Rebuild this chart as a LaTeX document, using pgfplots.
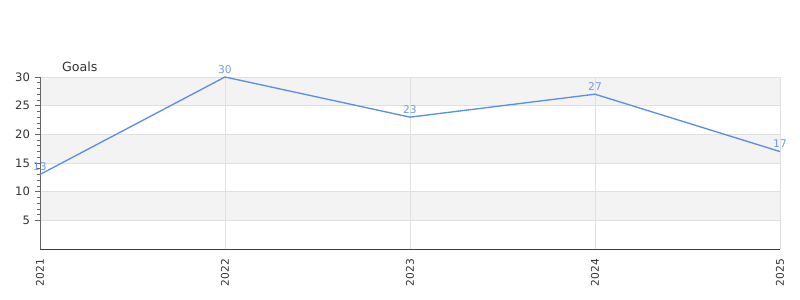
\documentclass[border=0pt]{standalone}
\usepackage{fontspec}
\setmainfont{DejaVu Sans}
\usepackage{pgfplots}
\pgfplotsset{compat=1.18}
\definecolor{linec}{HTML}{5B8EE6}
\definecolor{labc}{HTML}{6F9BE6}
\definecolor{band}{HTML}{F3F3F3}
\definecolor{gridc}{HTML}{E0E0E0}
\definecolor{txt}{HTML}{333333}
\begin{document}
\begin{tikzpicture}
\useasboundingbox (-30pt,-38.25pt) rectangle (570pt,186.75pt);
\begin{axis}[
  at={(0,0)}, anchor=south west,
  scale only axis, width=555pt, height=129pt,
  xmin=0, xmax=4, ymin=0, ymax=30,
  axis line style={draw=none},
  xtick={0,1,2,3,4},
  xticklabels={2021,2022,2023,2024,2025},
  x tick label style={rotate=90, anchor=east, font=\fontsize{8}{9}\selectfont, text=txt},
  xtick style={draw=none},
  ytick={5,10,15,20,25,30},
  ytick pos=left,
  minor y tick num=4,
  y tick label style={font=\fontsize{8.7}{10}\selectfont, text=txt},
  tick align=outside,
  major tick length=4pt,
  minor tick length=2.5pt,
  ytick style={draw=gray!80!black, line width=0.5pt},
  minor tick style={draw=gray!80!black, line width=0.5pt},
  /pgf/number format/assume math mode=true,
  clip=false,
  axis on top=false,
]
% bands
\fill[band] (axis cs:0,25) rectangle (axis cs:4,30);
\fill[band] (axis cs:0,15) rectangle (axis cs:4,20);
\fill[band] (axis cs:0,5) rectangle (axis cs:4,10);
% horizontal grid
\draw[gridc, line width=0.6pt] (axis cs:0,5) -- (axis cs:4,5);
\draw[gridc, line width=0.6pt] (axis cs:0,10) -- (axis cs:4,10);
\draw[gridc, line width=0.6pt] (axis cs:0,15) -- (axis cs:4,15);
\draw[gridc, line width=0.6pt] (axis cs:0,20) -- (axis cs:4,20);
\draw[gridc, line width=0.6pt] (axis cs:0,25) -- (axis cs:4,25);
\draw[gridc, line width=0.6pt] (axis cs:0,30) -- (axis cs:4,30);
% vertical grid
\draw[gridc, line width=0.6pt] (axis cs:1,0) -- (axis cs:1,30);
\draw[gridc, line width=0.6pt] (axis cs:2,0) -- (axis cs:2,30);
\draw[gridc, line width=0.6pt] (axis cs:3,0) -- (axis cs:3,30);
\draw[gridc, line width=0.6pt] (axis cs:4,0) -- (axis cs:4,30);
% axes lines
\draw[gray!80!black, line width=0.6pt] (axis cs:0,0) -- (axis cs:0,30);
\draw[gray!70!black, line width=0.8pt] ([yshift=-0.6pt]axis cs:0,0) -- ([yshift=-0.6pt]axis cs:4,0);
\draw[red!80!black, line width=0.6pt] (axis cs:0,0) -- (axis cs:4,0);
\addplot[linec, line width=1pt, mark=none,
  nodes near coords,
  every node near coord/.style={font=\fontsize{8}{9}\selectfont, text=labc, anchor=south, yshift=-1pt},
] coordinates {(0,13) (1,30) (2,23) (3,27) (4,17)};
\node[font=\fontsize{9.5}{11}\selectfont, text=txt, anchor=base west] at ([xshift=13pt, yshift=4pt]rel axis cs:0,1) {Goals};
\end{axis}
\end{tikzpicture}
\end{document}
